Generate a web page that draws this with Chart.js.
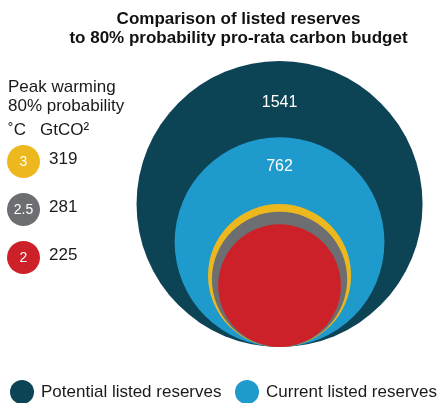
<!DOCTYPE html>
<html>
<head>
<meta charset="utf-8">
<script src="https://cdn.jsdelivr.net/npm/chart.js"></script>
<style>
  html, body { margin: 0; padding: 0; background: #fff; }
  #wrap { position: relative; width: 437px; height: 403px; font-family: "Liberation Sans", Arial, sans-serif; color: #1a1a1a; }
  #myChart { position: absolute; left: 0; top: 0; }
  .key { position: absolute; left: 8px; font-size: 17px; line-height: 20px; white-space: nowrap; }
  .dot { position: absolute; left: 7px; width: 33px; height: 33px; border-radius: 50%;
         color: #fff; font-size: 14px; line-height: 33px; text-align: center; }
  .num { position: absolute; left: 49px; font-size: 17px; line-height: 20px; }
  .leg { position: absolute; top: 380px; height: 24px; font-size: 17px; line-height: 24px; white-space: nowrap; }
  .leg span { position: absolute; left: 0; top: 0; width: 24px; height: 24px; border-radius: 50%; }
  .leg b { position: absolute; left: 31px; top: 0; font-weight: normal; }
</style>
</head>
<body>
<div id="wrap">
  <canvas id="myChart" width="437" height="403"></canvas>
  <div id="key"></div>
</div>
<script>
// reserves, GtCO2
const seriesLabels = ['Potential listed reserves', 'Current listed reserves', '3', '2.5', '2'];
const reserves = [1541, 762, 319, 281, 225];
const colors = ['#0c4456', '#1f9acd', '#ecb81e', '#6d6e71', '#cd2129'];

// peak warming key (80% probability)
const warming = ['3', '2.5', '2'];
const budgets = [319, 281, 225];
const keyTitle = ['Peak warming', '80% probability', '\u02daC\u00a0\u00a0 GtCO\u00b2'];

const key = document.getElementById('key');
[77, 96, 120].forEach((top, i) => {
    const d = document.createElement('div');
    d.className = 'key';
    d.style.top = top + 'px';
    d.textContent = keyTitle[i];
    key.appendChild(d);
});
warming.forEach((w, i) => {
    const dot = document.createElement('div');
    dot.className = 'dot';
    dot.style.top = (145 + i * 48) + 'px';
    dot.style.background = colors[i + 2];
    dot.textContent = w;
    key.appendChild(dot);
    const n = document.createElement('div');
    n.className = 'num';
    n.style.top = (149 + i * 48) + 'px';
    n.textContent = budgets[i];
    key.appendChild(n);
});

// legend at the bottom (first two series)
[10, 235].forEach((left, i) => {
    const d = document.createElement('div');
    d.className = 'leg';
    d.style.left = left + 'px';
    d.innerHTML = '<span style="background:' + colors[i] + '"></span><b></b>';
    d.querySelector('b').textContent = seriesLabels[i];
    key.appendChild(d);
});

// circle size in x units (biggest = 1)
function rUnits(v) {
    return Math.pow(v / reserves[0], 0.44);
}

// white value in the band between a circle's top and the next one
const valueLabels = {
    id: 'valueLabels',
    afterDatasetsDraw(chart) {
        const ctx = chart.ctx;
        ctx.save();
        ctx.fillStyle = '#ffffff';
        ctx.font = '16px "Liberation Sans", Arial, sans-serif';
        ctx.textAlign = 'center';
        ctx.textBaseline = 'middle';
        [0.54, 0.44].forEach((f, i) => {
            const el = chart.getDatasetMeta(i).data[0];
            const nx = chart.getDatasetMeta(i + 1).data[0];
            const top = el.y - el.options.radius;
            const nextTop = nx.y - nx.options.radius;
            ctx.fillText(String(reserves[i]), el.x, top + (nextTop - top) * f);
        });
        ctx.restore();
    }
};

const datasets = reserves.map((v, i) => ({
    label: seriesLabels[i],
    data: [{ x: 0, y: rUnits(v) }],
    backgroundColor: colors[i],
    borderWidth: 0,
    order: 10 - i,
    clip: false
}));

const ctx = document.getElementById('myChart').getContext('2d');
const myChart = new Chart(ctx, {
    type: 'bubble',
    data: { datasets: datasets },
    plugins: [valueLabels],
    options: {
        responsive: false,
        animation: false,
        events: [],
        layout: { autoPadding: false, padding: { left: 40, right: 0, top: 0, bottom: 56 } },
        scales: {
            x: { min: -1.675, max: 1.101, display: false },
            y: { min: 0, max: 2, display: false }
        },
        plugins: {
            tooltip: { enabled: false },
            legend: { display: false },
            title: {
                display: true,
                text: ['Comparison of listed reserves', 'to 80% probability pro-rata carbon budget'],
                color: '#111',
                font: { family: '"Liberation Sans", Arial, sans-serif', size: 17, weight: 'bold', lineHeight: 1.1 },
                padding: { top: 10, bottom: 13.6 }
            }
        }
    }
});

// bubble radius in pixels, taken from the x scale once it is laid out
const sx = myChart.scales.x;
myChart.data.datasets.forEach((ds, i) => {
    ds.data[0].r = sx.getPixelForValue(rUnits(reserves[i])) - sx.getPixelForValue(0);
});
myChart.update();
</script>
</body>
</html>
